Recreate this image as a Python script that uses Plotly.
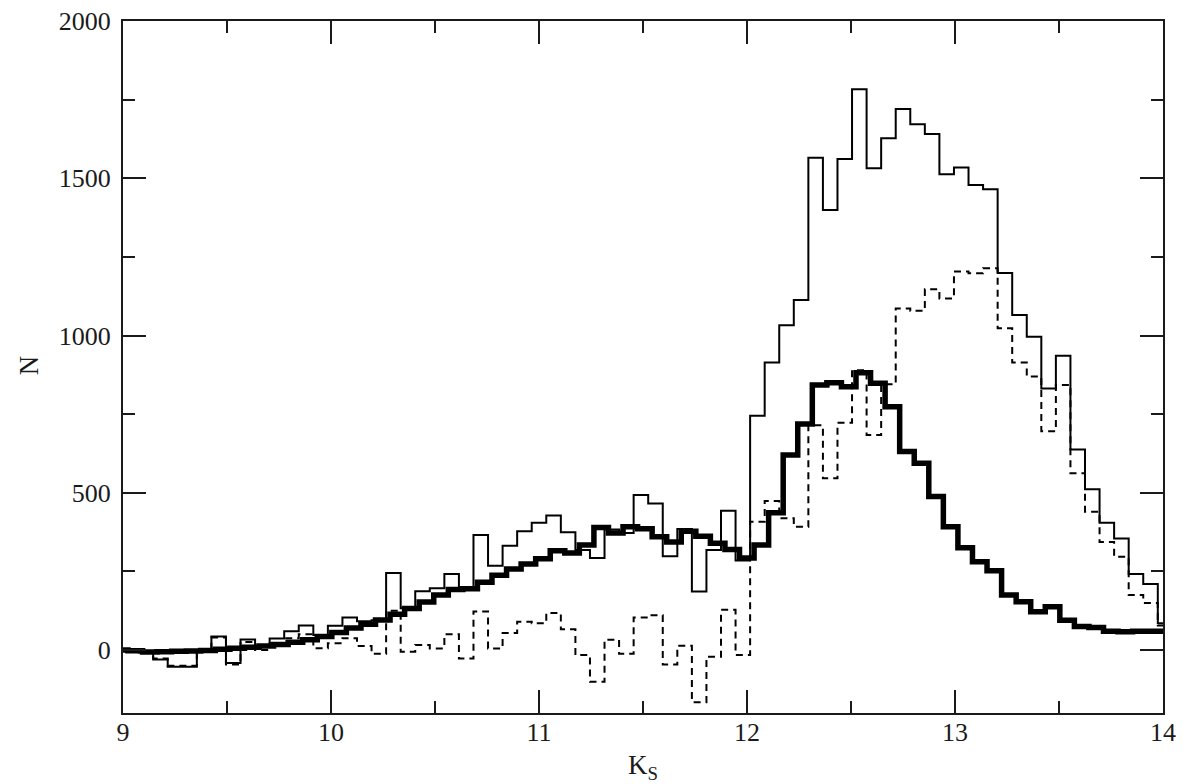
import numpy as np
import plotly.graph_objects as go

# ---- data ----
bin_width = 0.07
thin_start = 9.005      # left edge of first bin of the thin/dashed histograms
thick_start = 8.954     # left edge of first bin of the thick histogram

thin_vals = [3, -8, -30, -53, -53, 0, 43, -41, 34, 10,
             37, 60, 78, 48, 77, 104, 92, 95, 245, 133,
             187, 197, 242, 200, 366, 268, 332, 378, 405, 428,
             375, 318, 293, 383, 372, 493, 466, 298, 385, 186,
             318, 443, 285, 745, 914, 1033, 1113, 1565, 1399, 1561,
             1783, 1532, 1627, 1720, 1672, 1641, 1513, 1534, 1479, 1465,
             1199, 1065, 996, 832, 936, 638, 511, 405, 355, 242,
             210, 85]

dashed_vals = [3, -5, -27, -50, -50, -2, 40, -46, 26, 0,
               22, 38, 50, 6, 22, 38, 13, -12, 125, -5,
               16, 5, 50, -27, 123, 5, 54, 90, 85, 118,
               66, -16, -101, 33, -12, 104, 111, -46, 14, -166,
               -21, 128, -16, 408, 474, 419, 392, 715, 546, 723,
               890, 684, 845, 1086, 1079, 1147, 1118, 1204, 1198, 1214,
               1023, 914, 870, 696, 843, 562, 440, 344, 297, 175,
               150, 78]

thick_vals = [0, -2, -6, -5, -4, -3, -1, 3, 6, 9, 13,
              18, 25, 33, 43, 56, 70, 82, 96, 114, 132,
              153, 175, 193, 195, 216, 238, 258, 274, 290, 316,
              309, 334, 390, 372, 392, 386, 360, 344, 378, 362,
              340, 320, 293, 334, 437, 620, 719, 843, 850, 837,
              882, 848, 774, 631, 594, 488, 392, 325, 281, 252,
              175, 154, 122, 138, 95, 75, 72, 60, 58, 60,
              60, 60]

x_ticks = [9, 10, 11, 12, 13, 14]
y_ticks = [0, 500, 1000, 1500, 2000]


def step_xy(start, vals):
    edges = start + bin_width * np.arange(len(vals) + 1)
    ys = list(vals) + [vals[-1]]
    return edges, ys


FONT = "Liberation Serif, Times New Roman, serif"
INK = "#1a1a1a"

fig = go.Figure()

x1, y1 = step_xy(thin_start, thin_vals)
fig.add_trace(go.Scatter(x=x1, y=y1, mode="lines", line_shape="hv",
                         line=dict(color="black", width=2), showlegend=False))

x2, y2 = step_xy(thin_start, dashed_vals)
fig.add_trace(go.Scatter(x=x2, y=y2, mode="lines", line_shape="hv",
                         line=dict(color="black", width=2, dash="7px,5px"),
                         showlegend=False))

x3, y3 = step_xy(thick_start, thick_vals)
fig.add_trace(go.Scatter(x=x3, y=y3, mode="lines", line_shape="hv",
                         line=dict(color="black", width=5.5), showlegend=False))

axis_common = dict(
    showgrid=False, zeroline=False, automargin=False,
    showline=True, linecolor=INK, linewidth=2, mirror="allticks",
    ticks="inside", ticklen=23, tickwidth=2, tickcolor=INK,
    tickfont=dict(family=FONT, size=26, color=INK),
    ticklabeloverflow="allow",
)

fig.update_xaxes(range=[9, 14], tickvals=x_ticks, ticklabelstandoff=-5,
                 minor=dict(dtick=0.5, ticks="inside", ticklen=12, tickwidth=2,
                            tickcolor=INK, showgrid=False),
                 **axis_common)
fig.update_yaxes(range=[-200, 2000], tickvals=y_ticks, ticklabelstandoff=5,
                 minor=dict(dtick=250, ticks="inside", ticklen=12, tickwidth=2,
                            tickcolor=INK, showgrid=False),
                 **axis_common)

fig.add_annotation(text="K<sub>S</sub>", xref="paper", yref="paper",
                   x=0.5, y=-0.05, xanchor="center", yanchor="top",
                   showarrow=False, font=dict(family=FONT, size=27, color=INK))
fig.add_annotation(text="N", xref="paper", yref="paper",
                   x=-0.09, y=0.503, xanchor="center", yanchor="middle",
                   textangle=-90, showarrow=False,
                   font=dict(family=FONT, size=27, color=INK))

fig.update_layout(width=1200, height=784,
                  margin=dict(l=115, r=45, t=13, b=79),
                  plot_bgcolor="white", paper_bgcolor="white")

fig.write_html("out.html")
